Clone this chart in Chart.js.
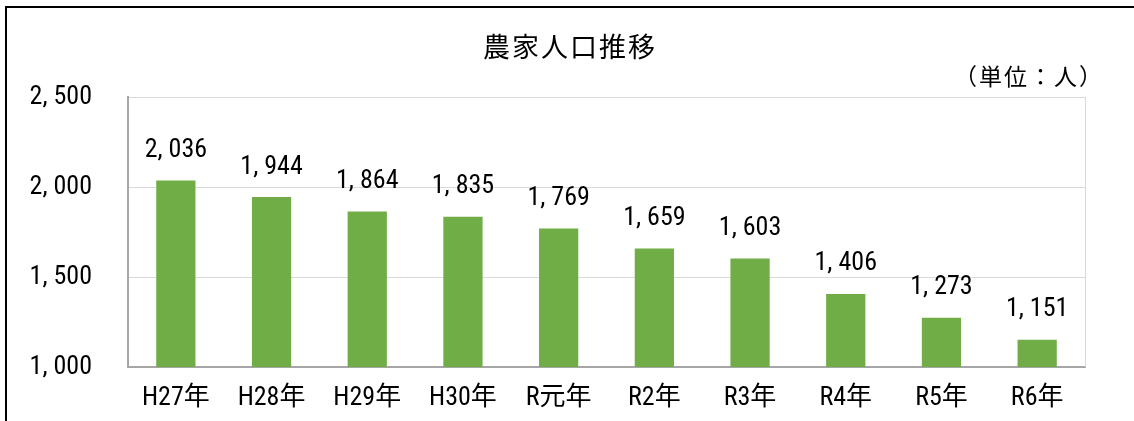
<!DOCTYPE html>
<html>
<head>
<meta charset="utf-8">
<script src="https://cdn.jsdelivr.net/npm/chart.js@4/dist/chart.umd.min.js"></script>
<style>
html,body{margin:0;padding:0;background:#fff;}
#wrap{width:1134px;height:421px;position:relative;}
</style>
</head>
<body>
<div id="wrap"><canvas id="c" width="1134" height="421"></canvas></div>
<script>
const titleText = '農家人口推移';
const unitText = '（単位：人）';
const categories = ['H27年','H28年','H29年','H30年','R元年','R2年','R3年','R4年','R5年','R6年'];
const population = [2036, 1944, 1864, 1835, 1769, 1659, 1603, 1406, 1273, 1151];
const yTicks = [1000, 1500, 2000, 2500];

const NUM_FONT = '"Roboto Condensed","DejaVu Sans Condensed","Noto Sans CJK JP",sans-serif';
const JP_FONT = '"Noto Sans CJK JP",sans-serif';
const fmt = v => { const s = String(v); return s.length > 3 ? s.slice(0, -3) + ', ' + s.slice(-3) : s; };

const decor = {
  id: 'decor',
  beforeDraw(chart) {
    const ctx = chart.ctx;
    ctx.save();
    ctx.fillStyle = '#fff';
    ctx.fillRect(0, 0, chart.width, chart.height);
    ctx.strokeStyle = '#000';
    ctx.lineWidth = 2;
    ctx.beginPath();
    ctx.moveTo(6, chart.height + 2);
    ctx.lineTo(6, 7);
    ctx.lineTo(chart.width + 2, 7);
    ctx.stroke();
    ctx.restore();
  },
  afterDraw(chart) {
    const ctx = chart.ctx;
    const a = chart.chartArea;
    ctx.save();
    ctx.strokeStyle = '#d9d9d9';
    ctx.lineWidth = 1;
    ctx.beginPath();
    ctx.moveTo(a.right + 0.5, a.top);
    ctx.lineTo(a.right + 0.5, a.bottom);
    ctx.stroke();
    ctx.fillStyle = '#000';
    ctx.font = '27px ' + JP_FONT;
    ctx.textAlign = 'center';
    ctx.textBaseline = 'middle';
    ctx.letterSpacing = '2px';
    ctx.fillText(titleText, 570, 47);
    ctx.font = '23px ' + JP_FONT;
    ctx.letterSpacing = '2px';
    ctx.textAlign = 'right';
    ctx.fillText(unitText, 1104, 76);
    ctx.letterSpacing = '0px';
    ctx.font = '26px ' + NUM_FONT;
    ctx.textAlign = 'center';
    ctx.textBaseline = 'middle';
    const meta = chart.getDatasetMeta(0);
    meta.data.forEach((bar, i) => {
      ctx.fillText(fmt(population[i]), bar.x, bar.y - 30);
    });
    ctx.restore();
  }
};

new Chart(document.getElementById('c'), {
  type: 'bar',
  data: {
    labels: categories,
    datasets: [{
      data: population,
      backgroundColor: '#70AD47',
      borderWidth: 0,
      categoryPercentage: 1,
      barPercentage: 0.41
    }]
  },
  options: {
    responsive: false,
    animation: false,
    devicePixelRatio: 1,
    layout: { padding: { top: 97, right: 49, left: 0, bottom: 0 } },
    plugins: { legend: { display: false }, tooltip: { enabled: false }, title: { display: false } },
    scales: {
      x: {
        grid: { display: false, drawTicks: false },
        border: { display: true, color: '#a6a6a6', width: 2 },
        ticks: { color: '#000', font: { family: NUM_FONT, size: 26 }, padding: 16, maxRotation: 0, autoSkip: false },
        afterFit(s) { s.height = 54; }
      },
      y: {
        min: 1000, max: 2500,
        afterBuildTicks(s) { s.ticks = yTicks.map(v => ({ value: v })); },
        grid: { color: '#d9d9d9', lineWidth: 1, drawTicks: false },
        border: { display: true, color: '#a6a6a6', width: 2 },
        ticks: { color: '#000', font: { family: NUM_FONT, size: 26 }, padding: 36, callback: v => fmt(v) },
        afterFit(s) { s.width = 128; }
      }
    }
  },
  plugins: [decor]
});
</script>
</body>
</html>
